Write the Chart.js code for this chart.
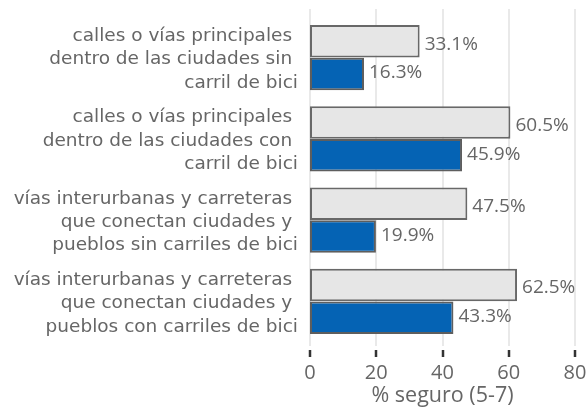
<!DOCTYPE html>
<html>
<head>
<meta charset="utf-8">
<script src="https://cdn.jsdelivr.net/npm/chart.js@4/dist/chart.umd.min.js"></script>
<style>
    html, body { margin: 0; padding: 0; background: #fff; }
    #wrap { width: 587px; height: 407px; }
</style>
</head>
<body>
<div id="wrap"><canvas id="chartContainer"></canvas></div>
<script>
const categories = [
    ["calles o vías principales ", "dentro de las ciudades sin ", "carril de bici"],
    ["calles o vías principales ", "dentro de las ciudades con ", "carril de bici"],
    ["vías interurbanas y carreteras ", "que conectan ciudades y ", "pueblos sin carriles de bici"],
    ["vías interurbanas y carreteras ", "que conectan ciudades y ", "pueblos con carriles de bici"]
];
const grayValues = [33.1, 60.5, 47.5, 62.5];
const blueValues = [16.3, 45.9, 19.9, 43.3];
const xTicks = [0, 20, 40, 60, 80];
const xTitle = "% seguro (5-7)";

document.addEventListener("DOMContentLoaded", () => {
    const catFont = "'DejaVu Sans', Verdana, sans-serif";
    const font = "'Open Sans', 'Noto Sans', sans-serif";
    const textColor = '#666666';

    // gridlines a bit longer than the plot, plus detached tick marks
    const gridPlugin = {
        id: 'gridPlugin',
        beforeDatasetsDraw(chart) {
            const { ctx, chartArea, scales } = chart;
            ctx.save();
            xTicks.forEach(v => {
                const px = Math.round(scales.x.getPixelForValue(v));
                ctx.strokeStyle = '#e2e2e2';
                ctx.lineWidth = 1.5;
                ctx.beginPath();
                ctx.moveTo(px, chartArea.top - 8);
                ctx.lineTo(px, chartArea.bottom + 4);
                ctx.stroke();
                ctx.strokeStyle = '#333333';
                ctx.lineWidth = 2.5;
                ctx.beginPath();
                ctx.moveTo(px, chartArea.bottom + 8);
                ctx.lineTo(px, chartArea.bottom + 15);
                ctx.stroke();
            });
            ctx.restore();
        }
    };

    const labelPlugin = {
        id: 'labelPlugin',
        afterDatasetsDraw(chart) {
            const { ctx } = chart;
            ctx.save();
            ctx.font = "19px " + font;
            ctx.fillStyle = textColor;
            ctx.textAlign = 'left';
            ctx.textBaseline = 'middle';
            chart.data.datasets.forEach((ds, i) => {
                const dy = i === 0 ? 3 : -1;
                chart.getDatasetMeta(i).data.forEach((bar, j) => {
                    ctx.fillText(ds.data[j].toFixed(1) + '%', bar.x + 5, bar.y + dy);
                });
            });
            ctx.restore();
        }
    };

    const ctxBar = document.getElementById('chartContainer').getContext('2d');
    const barChart = new Chart(ctxBar, {
        type: 'bar',
        data: {
            labels: categories,
            datasets: [{
                label: 'serie 1',
                data: grayValues,
                backgroundColor: '#e6e6e6',
                borderColor: '#686868',
                borderWidth: 2,
                borderSkipped: false
            }, {
                label: 'serie 2',
                data: blueValues,
                backgroundColor: '#0563b4',
                borderColor: '#5e5e5e',
                borderWidth: 2,
                borderSkipped: false
            }]
        },
        options: {
            indexAxis: 'y',
            responsive: true,
            maintainAspectRatio: false,
            animation: false,
            layout: { padding: { top: 17, right: 12, bottom: 0, left: 0 } },
            plugins: {
                legend: { display: false },
                tooltip: { enabled: false }
            },
            datasets: {
                bar: { categoryPercentage: 0.81, barPercentage: 0.99 }
            },
            scales: {
                x: {
                    min: 0,
                    max: 80,
                    afterBuildTicks: (scale) => {
                        scale.ticks = xTicks.map(v => ({ value: v }));
                    },
                    afterFit: (scale) => {
                        scale.height = 65;
                        scale.paddingLeft = 0;
                        scale.paddingRight = 0;
                    },
                    grid: { display: false },
                    border: { display: false },
                    ticks: {
                        padding: 11,
                        color: textColor,
                        font: { family: font, size: 20, lineHeight: 1.2 },
                        maxRotation: 0
                    },
                    title: {
                        display: true,
                        text: xTitle,
                        color: textColor,
                        font: { family: font, size: 21.5, lineHeight: 1.0 },
                        padding: { top: 0, bottom: 0 }
                    }
                },
                y: {
                    afterFit: (scale) => {
                        scale.width = 310;
                        scale.paddingTop = 0;
                        scale.paddingBottom = 0;
                    },
                    grid: { display: false },
                    border: { display: false },
                    ticks: {
                        padding: 4,
                        labelOffset: 2,
                        color: textColor,
                        font: { family: catFont, size: 18.5, lineHeight: 1.265 }
                    }
                }
            }
        },
        plugins: [gridPlugin, labelPlugin]
    });
});
</script>
</body>
</html>
